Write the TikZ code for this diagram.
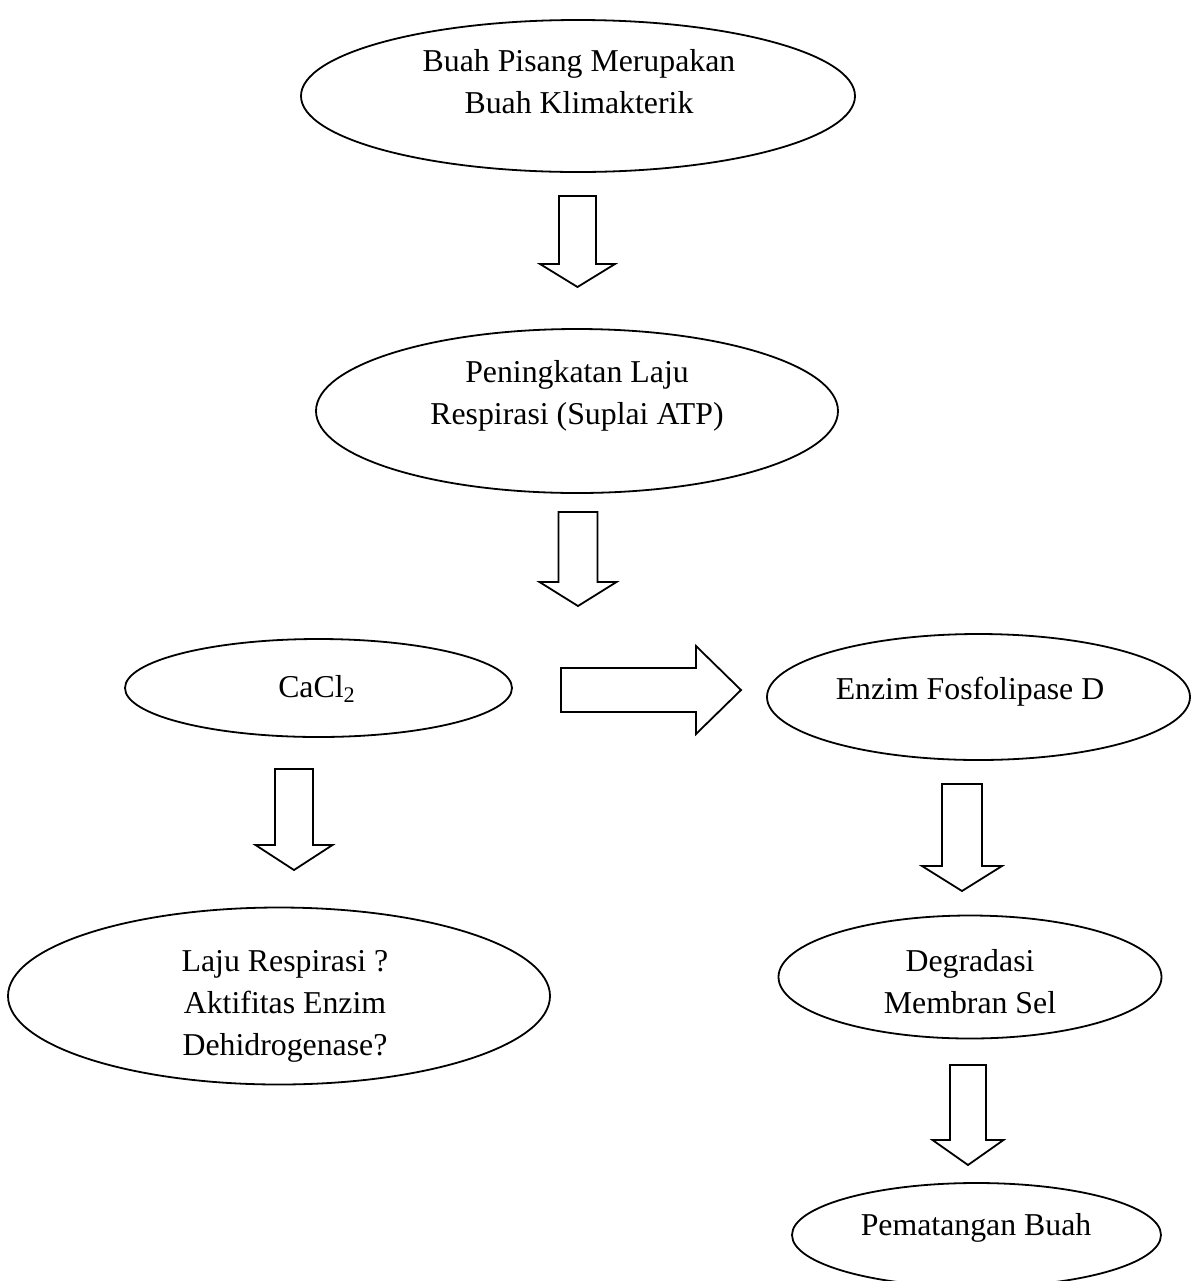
\documentclass[tikz,border=0pt]{standalone}
\usepackage{fontspec}
\setmainfont{Liberation Serif}
\usetikzlibrary{shapes.geometric}
\tikzset{
  oval/.style={draw, ellipse, line width=0.9pt, inner sep=0pt, outer sep=0pt},
  lbl/.style={anchor=base, inner sep=0pt, font=\fontsize{15.9}{19}\selectfont},
  blk/.style={draw, line width=0.9pt, line join=miter, fill=white},
}
% cx, top, headbase, tip, shaft half width, head half width
\newcommand{\bdown}[6]{%
  \draw[blk] ({#1-#5},#2) -- ({#1+#5},#2) -- ({#1+#5},#3) -- ({#1+#6},#3)
    -- (#1,#4) -- ({#1-#6},#3) -- ({#1-#5},#3) -- cycle;}
\begin{document}
\begin{tikzpicture}[x=0.5pt,y=-0.5pt]
\useasboundingbox (0,0) rectangle (1192,1281);
% ellipses
\node[oval, minimum width=277pt, minimum height=76pt] (e1) at (578,96) {};
\node[oval, minimum width=261pt, minimum height=82pt] (e2) at (577,411) {};
\node[oval, minimum width=193.5pt, minimum height=49pt] (e3) at (318.5,688) {};
\node[oval, minimum width=211.5pt, minimum height=63pt] (e4) at (978.5,697) {};
\node[oval, minimum width=271pt, minimum height=88.5pt] (e5) at (279,996) {};
\node[oval, minimum width=191.5pt, minimum height=61.5pt] (e6) at (970,977) {};
\node[oval, minimum width=184.5pt, minimum height=52pt] (e7) at (976.5,1235) {};
% texts
\node[lbl] (t1a) at (579,71) {Buah Pisang Merupakan};
\node[lbl] (t1b) at (579,113) {Buah Klimakterik};
\node[lbl] (t2a) at (577,382) {Peningkatan Laju};
\node[lbl] (t2b) at (577,424) {Respirasi (Suplai ATP)};
\node[lbl] (t3) at (317,697) {CaCl\textsubscript{2}};
\node[lbl] (t4) at (970,699) {Enzim Fosfolipase D};
\node[lbl] (t5a) at (285,971) {Laju Respirasi ?};
\node[lbl] (t5b) at (285,1013) {Aktifitas Enzim};
\node[lbl] (t5c) at (285,1055) {Dehidrogenase?};
\node[lbl] (t6a) at (970,971) {Degradasi};
\node[lbl] (t6b) at (970,1013) {Membran Sel};
\node[lbl] (t7) at (976,1235) {Pematangan Buah};
% block arrows
\bdown{577.5}{196}{264}{287}{18.5}{37.5}
\bdown{578}{512}{582}{606}{19.5}{38.5}
\bdown{294}{769}{845}{870}{19}{38.5}
\bdown{962}{784}{866}{891}{20}{40}
\bdown{968}{1065}{1140}{1165}{18}{35.5}
\draw[blk] (561,668) -- (696,668) -- (696,646) -- (741,690) -- (696,734)
  -- (696,712) -- (561,712) -- cycle;
\end{tikzpicture}
\end{document}
